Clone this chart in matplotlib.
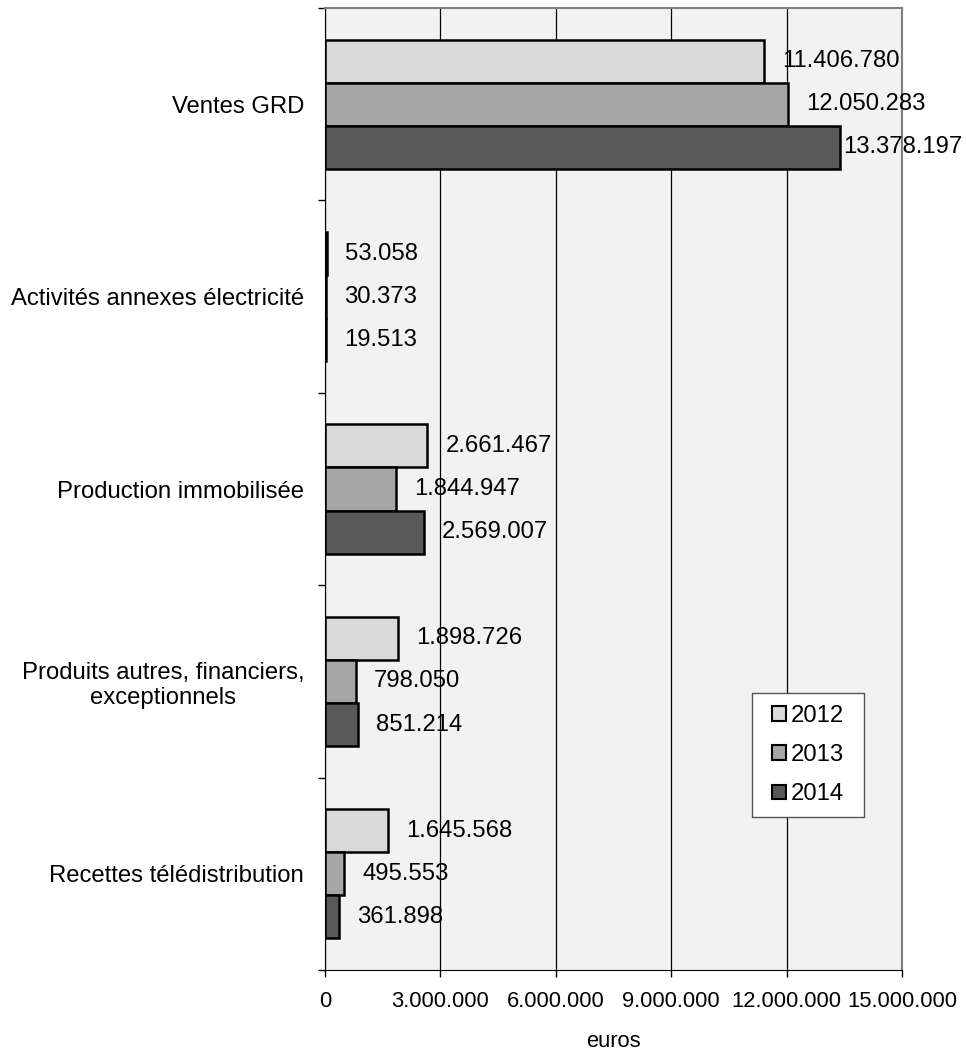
import matplotlib
matplotlib.use("Agg")
import matplotlib.pyplot as plt
from matplotlib.patches import Rectangle
import numpy as np

plt.rcParams['font.family'] = ['Liberation Sans', 'DejaVu Sans']

categories = ["Ventes GRD", "Activités annexes électricité", "Production immobilisée",
              "Produits autres, financiers,\nexceptionnels", "Recettes télédistribution"]
years = ["2012", "2013", "2014"]
values_2012 = [11406780, 53058, 2661467, 1898726, 1645568]
values_2013 = [12050283, 30373, 1844947, 798050, 495553]
values_2014 = [13378197, 19513, 2569007, 851214, 361898]
x_ticks = [0, 3000000, 6000000, 9000000, 12000000, 15000000]

series = [values_2012, values_2013, values_2014]
colors = ["#D9D9D9", "#A6A6A6", "#595959"]
FS = 17.2
FS_TICK = 15.8


def fmt(v):
    return f"{v:,}".replace(",", ".")


fig = plt.figure(figsize=(9.66, 10.59), dpi=100)
ax = fig.add_axes([0.3364, 0.0840, 0.5973, 0.9084])
ax.set_facecolor("#F2F2F2")

h = 0.224
pos = np.arange(len(categories))
labels = []
for k, (vals, col, yr) in enumerate(zip(series, colors, years)):
    y = pos + (k - 1) * h
    ax.barh(y, vals, height=h, color=col, edgecolor="black", linewidth=1.8,
            label=yr, zorder=3)
    for yy, v in zip(y, vals):
        t = ax.annotate(fmt(v), xy=(v, yy), xytext=(13, 0), textcoords="offset points",
                        va="center", ha="left", fontsize=FS, zorder=4)
        labels.append(t)

ax.set_xlim(0, 15000000)
ax.set_ylim(len(categories) - 0.5, -0.5)

ax.set_xticks(x_ticks)
ax.set_xticklabels([fmt(t) for t in x_ticks], fontsize=FS_TICK)
ax.xaxis.grid(True, color="black", linewidth=0.9, zorder=1)
ax.tick_params(axis="x", length=5, width=1, pad=10, direction="out")

ax.set_yticks(pos)
ax.set_yticklabels(categories, fontsize=FS, multialignment="center")
ax.tick_params(axis="y", which="major", length=0, pad=15)
ax.set_yticks(np.arange(-0.5, len(categories) + 0.5, 1), minor=True)
ax.tick_params(axis="y", which="minor", length=5, width=1, direction="out")

for side in ("top", "right"):
    ax.spines[side].set_color("#808080")
    ax.spines[side].set_linewidth(1.5)
ax.spines["left"].set_color("black")
ax.spines["bottom"].set_color("black")

ax.set_xlabel("euros", fontsize=FS_TICK, labelpad=14)

# legend: white framed box with the three year entries centred inside
W, H = fig.bbox.width, fig.bbox.height
x0, x1, y0, y1 = 752, 864, 693, 817
frame = Rectangle((x0 / W, 1 - y1 / H), (x1 - x0) / W, (y1 - y0) / H,
                  transform=fig.transFigure, facecolor="white", edgecolor="#555555",
                  linewidth=1.0, zorder=5)
fig.add_artist(frame)
leg = ax.legend(loc="center", bbox_to_anchor=((x0 + x1) / 2 / W, 1 - (y0 + y1) / 2 / H),
                bbox_transform=fig.transFigure, fontsize=FS, frameon=False,
                handlelength=0.55, handleheight=0.55, handletextpad=0.2,
                labelspacing=0.72, borderpad=0, borderaxespad=0)
for patch in leg.get_patches():
    patch.set_linewidth(1.5)
ax.legend_ = None
leg.set_zorder(6)
fig.add_artist(leg)

# keep value labels inside the figure
fig.canvas.draw()
renderer = fig.canvas.get_renderer()
limit = W - 4
for t in labels:
    bb = t.get_window_extent(renderer)
    if bb.x1 > limit:
        shift_pt = (bb.x1 - limit) * 72 / fig.dpi
        t.xyann = (t.xyann[0] - shift_pt, t.xyann[1])

fig.savefig("out.png", dpi=100)
